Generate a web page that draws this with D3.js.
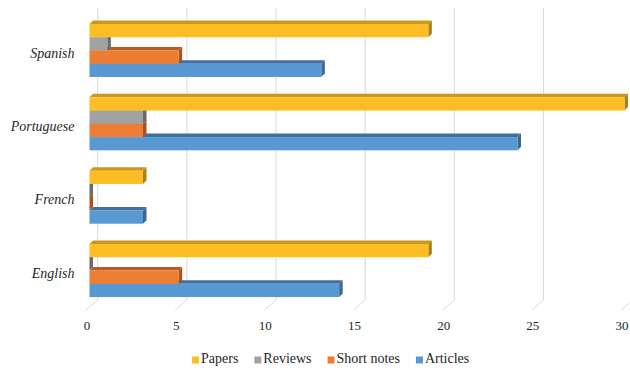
<!DOCTYPE html>
<html>
<head>
<meta charset="utf-8">
<script src="https://cdn.jsdelivr.net/npm/d3@7"></script>
<style>
  html, body { margin: 0; padding: 0; background: #fff; }
  svg { display: block; }
</style>
</head>
<body>
<svg id="chart" width="630" height="372"></svg>
<script>
// Languages, listed from top to bottom as drawn
const languages = ["Spanish", "Portuguese", "French", "English"];
// Series, stacked top to bottom inside each language group
const seriesNames = ["Papers", "Reviews", "Short notes", "Articles"];
// Publication counts per language, in the order of `languages`
const papers     = [19, 30, 3, 19];
const reviews    = [1, 3, 0, 0];
const shortNotes = [5, 3, 0, 5];
const articles   = [13, 24, 3, 14];
const xTicks = [0, 5, 10, 15, 20, 25, 30];

const seriesValues = [papers, reviews, shortNotes, articles];
const palette = {
  "Papers":      { front: "#FDBD25", top: "#C9991F", side: "#A8841E" },
  "Reviews":     { front: "#A2A2A2", top: "#7A7A7A", side: "#6A6A6A" },
  "Short notes": { front: "#EE7D34", top: "#B95C22", side: "#A9531E" },
  "Articles":    { front: "#5898D3", top: "#40709E", side: "#3A6892" }
};
const FONT = "'Liberation Serif', 'DejaVu Serif', 'Times New Roman', serif";

const svg = d3.select("#chart");

// Front plane of the bars
const x = d3.scaleLinear().domain([0, 30]).range([89.5, 624.5]);
const y = d3.scaleBand().domain(languages)
  .range([13.8, 307.2]).paddingInner(0.2773).paddingOuter(0.13865);
const ySub = d3.scaleBand().domain(seriesNames).range([0, y.bandwidth()]);

// 3-D depth of the bars and of the chart box
const depth = { dx: 3.5, dy: -3.5 };
const wall = { dx: 8.2, top: 8, bottom: 300 };
const floorFront = { dx: -3.5, y: 310 };

// Back wall gridlines with the floor edge running to the front
const grid = svg.append("g").attr("fill", "none").attr("stroke", "#D9D9D9").attr("stroke-width", 1);
xTicks.forEach(t => {
  const xb = x(t) + wall.dx;
  grid.append("path")
    .attr("d", `M${xb},${wall.top}L${xb},${wall.bottom}L${x(t) + floorFront.dx},${floorFront.y}`);
});

// Value axis labels along the front edge of the floor
svg.append("g").selectAll("text").data(xTicks).join("text")
  .attr("x", d => x(d) - 2.5)
  .attr("y", 327)
  .attr("text-anchor", "middle")
  .attr("dominant-baseline", "middle")
  .attr("font-family", FONT)
  .attr("font-size", 13)
  .attr("fill", "#262626")
  .text(d => d);

// Category labels
svg.append("g").selectAll("text").data(languages).join("text")
  .attr("x", 74.5)
  .attr("y", d => y(d) + y.bandwidth() / 2 + 4)
  .attr("text-anchor", "end")
  .attr("dominant-baseline", "middle")
  .attr("font-family", FONT)
  .attr("font-size", 14)
  .attr("font-style", "italic")
  .attr("fill", "#262626")
  .text(d => d);

// Bars: lower series first so the ones above cover their top faces
const bars = [];
languages.forEach((lang, li) => {
  seriesNames.forEach((s, si) => {
    bars.push({ lang, series: s, value: seriesValues[si][li], order: si });
  });
});
bars.sort((a, b) => b.order - a.order);

const barG = svg.append("g");
bars.forEach(b => {
  const x0 = x(0), x1 = x(b.value);
  const y0 = y(b.lang) + ySub(b.series);
  const y1 = y0 + ySub.bandwidth();
  const c = palette[b.series];
  const g = barG.append("g");
  // top face
  g.append("path")
    .attr("d", `M${x0},${y0}L${x1},${y0}L${x1 + depth.dx},${y0 + depth.dy}L${x0 + depth.dx},${y0 + depth.dy}Z`)
    .attr("fill", c.top);
  // side face
  g.append("path")
    .attr("d", `M${x1},${y0}L${x1 + depth.dx},${y0 + depth.dy}L${x1 + depth.dx},${y1 + depth.dy}L${x1},${y1}Z`)
    .attr("fill", c.side);
  // front face
  if (x1 > x0) {
    g.append("rect")
      .attr("x", x0).attr("y", y0)
      .attr("width", x1 - x0).attr("height", y1 - y0)
      .attr("fill", c.front);
  }
});

// Legend
const legend = svg.append("g").attr("transform", "translate(0,360)");
let cursor = 192;
seriesNames.forEach(s => {
  legend.append("rect")
    .attr("x", cursor).attr("y", -3.5)
    .attr("width", 7).attr("height", 7)
    .attr("fill", palette[s].front);
  const t = legend.append("text")
    .attr("x", cursor + 9)
    .attr("y", 0)
    .attr("dominant-baseline", "middle")
    .attr("font-family", FONT)
    .attr("font-size", 14)
    .attr("fill", "#262626")
    .text(s);
  cursor += 9 + t.node().getComputedTextLength() + 16;
});
</script>
</body>
</html>
